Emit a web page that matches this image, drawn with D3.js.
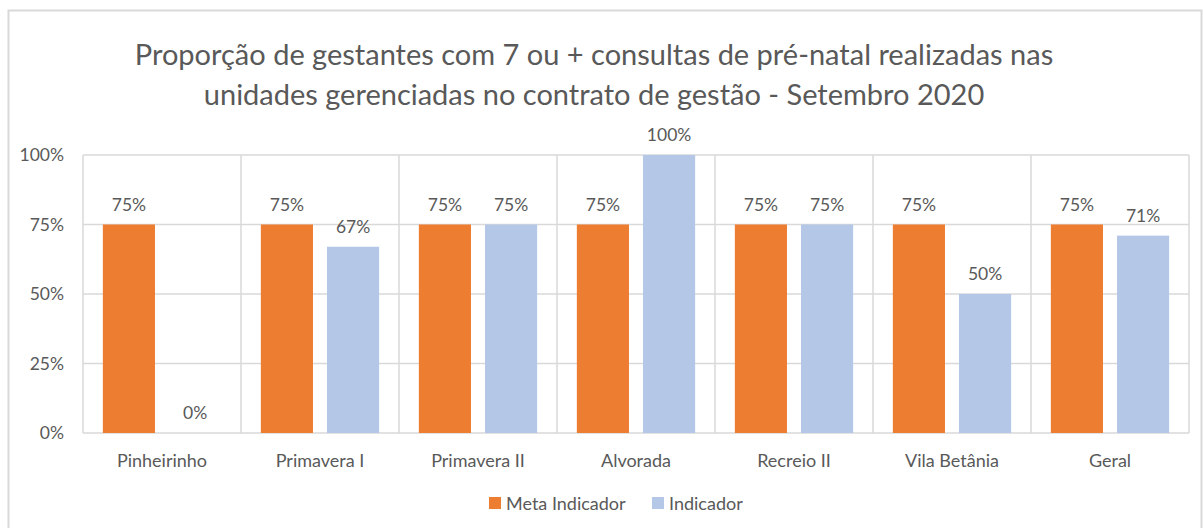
<!DOCTYPE html>
<html>
<head>
<meta charset="utf-8">
<script src="https://cdn.jsdelivr.net/npm/d3@7"></script>
<style>
  body { margin: 0; background: #fff; }
  text { font-family: Lato, "Open Sans", sans-serif; fill: #595959; }
</style>
</head>
<body>
<svg></svg>
<script>
// dados do gráfico
const categories = ["Pinheirinho", "Primavera I", "Primavera II", "Alvorada", "Recreio II", "Vila Betânia", "Geral"];
const meta = [75, 75, 75, 75, 75, 75, 75];
const indicador = [0, 67, 75, 100, 75, 50, 71];
const seriesNames = ["Meta Indicador", "Indicador"];
const yTicks = [0, 25, 50, 75, 100];
const titleLines = [
  "Proporção de gestantes com 7 ou + consultas de pré-natal realizadas nas",
  "unidades gerenciadas no contrato de gestão - Setembro 2020"
];

const colors = ["#ED7D31", "#B4C7E7"];

const width = 1203, height = 528;
const svg = d3.select("svg").attr("width", width).attr("height", height);

// borda externa
svg.append("rect")
  .attr("x", 8.5).attr("y", 10.5)
  .attr("width", 1193).attr("height", 530)
  .attr("fill", "none").attr("stroke", "#d9d9d9").attr("stroke-width", 2);

const margin = { left: 83, right: 14, top: 155, bottom: 95 };
const graphWidth = width - margin.left - margin.right;
const graphHeight = height - margin.top - margin.bottom;

const g = svg.append("g").attr("transform", `translate(${margin.left}, ${margin.top})`);

const xScale = d3.scaleBand().domain(categories).range([0, graphWidth]);
const xInner = d3.scaleBand().domain(seriesNames).range([0, xScale.bandwidth()])
  .paddingInner(0.212).paddingOuter(0.3);
const yScale = d3.scaleLinear().domain([0, 100]).range([graphHeight, 0]);

// grade horizontal
g.append("g").selectAll("line").data(yTicks).join("line")
  .attr("x1", 0).attr("x2", graphWidth)
  .attr("y1", d => yScale(d)).attr("y2", d => yScale(d))
  .attr("stroke", "#d9d9d9").attr("stroke-width", 1.5);

// grade vertical (divisão das categorias)
const bounds = categories.map(c => xScale(c)).concat([graphWidth]);
g.append("g").selectAll("line").data(bounds).join("line")
  .attr("x1", d => d).attr("x2", d => d)
  .attr("y1", 0).attr("y2", graphHeight)
  .attr("stroke", "#d9d9d9").attr("stroke-width", 1.5);

// eixo y
const yAxis = d3.axisLeft(yScale).tickValues(yTicks).tickFormat(d => d + "%").tickSize(0).tickPadding(19);
const yAxisG = g.append("g").call(yAxis);
yAxisG.select(".domain").remove();
yAxisG.selectAll("text").style("font-size", "17.5px").attr("fill", "#595959");

// eixo x
const xAxis = d3.axisBottom(xScale).tickSize(0).tickPadding(21);
const xAxisG = g.append("g").attr("transform", `translate(0, ${graphHeight})`).call(xAxis);
xAxisG.select(".domain").remove();
xAxisG.selectAll("text").style("font-size", "18px").attr("fill", "#595959");

// barras
const rows = categories.map((c, i) => ({ cat: c, values: [meta[i], indicador[i]] }));
const groups = g.selectAll(".grp").data(rows).join("g")
  .attr("class", "grp")
  .attr("transform", d => `translate(${xScale(d.cat)}, 0)`);

groups.selectAll("rect")
  .data(d => d.values.map((v, j) => ({ key: seriesNames[j], v, j })))
  .join("rect")
  .attr("x", d => xInner(d.key))
  .attr("width", xInner.bandwidth())
  .attr("y", d => yScale(d.v))
  .attr("height", d => graphHeight - yScale(d.v))
  .attr("fill", d => colors[d.j]);

groups.selectAll("text.lbl")
  .data(d => d.values.map((v, j) => ({ key: seriesNames[j], v, j })))
  .join("text")
  .attr("class", "lbl")
  .attr("x", d => xInner(d.key) + xInner.bandwidth() / 2)
  .attr("y", d => yScale(d.v) - 14)
  .attr("text-anchor", "middle")
  .style("font-size", "17.5px")
  .text(d => d.v + "%");

// título
svg.append("g").selectAll("text").data(titleLines).join("text")
  .attr("x", 594)
  .attr("y", (d, i) => 65 + i * 40)
  .attr("text-anchor", "middle")
  .style("font-size", "29px")
  .text(d => d);

// legenda
const legend = svg.append("g").attr("transform", "translate(489, 504)");
const items = [{ name: seriesNames[0], x: 0 }, { name: seriesNames[1], x: 163 }];
items.forEach((it, i) => {
  legend.append("rect").attr("x", it.x).attr("y", -7).attr("width", 12).attr("height", 12).attr("fill", colors[i]);
  legend.append("text").attr("x", it.x + 17).attr("y", 6).style("font-size", "18px").text(it.name);
});
</script>
</body>
</html>
